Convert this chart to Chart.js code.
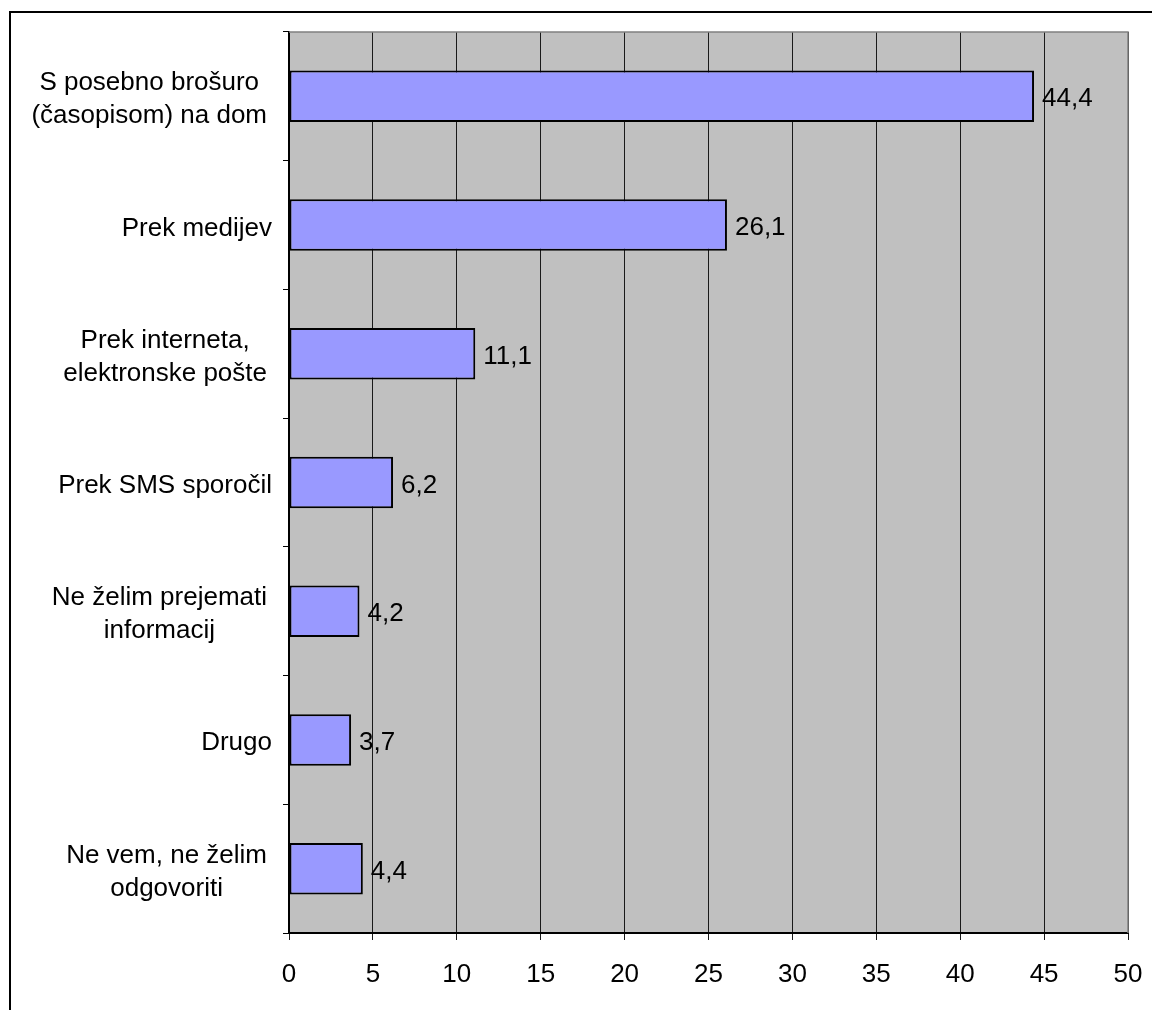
<!DOCTYPE html>
<html lang="sl">
  <head>
    <meta charset="UTF-8" />
    <title>Način prejemanja informacij</title>
    <script src="https://cdn.jsdelivr.net/npm/chart.js"></script>
    <style>
      html, body { margin: 0; padding: 0; background: #ffffff; }
      #wrap { width: 1152px; height: 1010px; }
    </style>
  </head>
  <body>
    <div id="wrap">
      <canvas id="myChart" width="1152" height="1010"></canvas>
    </div>

    <script>
      // data
      const categories = [
        ["S posebno brošuro", "(časopisom) na dom"],
        ["Prek medijev"],
        ["Prek interneta,", "elektronske pošte"],
        ["Prek SMS sporočil"],
        ["Ne želim prejemati", "informacij"],
        ["Drugo"],
        ["Ne vem, ne želim", "odgovoriti"]
      ];
      const values = [44.4, 26.1, 11.1, 6.2, 4.2, 3.7, 4.4];
      const xMin = 0;
      const xMax = 50;
      const xStep = 5;

      const fontFamily = '"Liberation Sans", Arial, sans-serif';
      const fontSize = 26;
      Chart.defaults.font.family = fontFamily;
      Chart.defaults.font.size = fontSize;
      Chart.defaults.color = "#000000";

      // white page, outer frame and grey plot area
      const backdrop = {
        id: "backdrop",
        beforeDraw(chart) {
          const { ctx, chartArea: a } = chart;
          ctx.save();
          ctx.fillStyle = "#ffffff";
          ctx.fillRect(0, 0, chart.width, chart.height);
          ctx.fillStyle = "#000000";
          ctx.fillRect(9, 11, chart.width, 2);
          ctx.fillRect(9, 11, 2, chart.height);
          ctx.fillStyle = "#c0c0c0";
          ctx.fillRect(a.left, a.top, a.right - a.left, a.bottom - a.top);
          ctx.restore();
        },
        afterDraw(chart) {
          const { ctx, chartArea: a } = chart;
          ctx.save();
          ctx.strokeStyle = "#808080";
          ctx.lineWidth = 1.5;
          ctx.beginPath();
          ctx.moveTo(a.left, a.top);
          ctx.lineTo(a.right, a.top);
          ctx.lineTo(a.right, a.bottom);
          ctx.stroke();
          ctx.restore();
        }
      };

      // category names: every line centred, block ends just left of the ticks
      const categoryLabels = {
        id: "categoryLabels",
        afterDraw(chart) {
          const { ctx } = chart;
          const yScale = chart.scales.y;
          const lineH = 33;
          ctx.save();
          ctx.font = fontSize + "px " + fontFamily;
          ctx.fillStyle = "#000000";
          ctx.textAlign = "center";
          ctx.textBaseline = "alphabetic";
          categories.forEach((lines, i) => {
            const cy = yScale.getPixelForValue(i);
            const rightEdge = yScale.right - (lines.length > 1 ? 22 : 17);
            const w = Math.max(...lines.map(l => ctx.measureText(l).width));
            const cx = rightEdge - w / 2;
            lines.forEach((l, k) => {
              ctx.fillText(l, cx, cy + 10.5 + (k - (lines.length - 1) / 2) * lineH);
            });
          });
          ctx.restore();
        }
      };

      // numbers at the end of the bars, with a decimal comma
      const valueLabels = {
        id: "valueLabels",
        afterDatasetsDraw(chart) {
          const { ctx } = chart;
          const meta = chart.getDatasetMeta(0);
          ctx.save();
          ctx.font = fontSize + "px " + fontFamily;
          ctx.fillStyle = "#000000";
          ctx.textAlign = "left";
          ctx.textBaseline = "alphabetic";
          meta.data.forEach((bar, i) => {
            const txt = values[i].toFixed(1).replace(".", ",");
            ctx.fillText(txt, bar.x + 8, bar.y + 10);
          });
          ctx.restore();
        }
      };

      new Chart(document.getElementById("myChart"), {
        type: "bar",
        data: {
          labels: categories.map(c => c.join(" ")),
          datasets: [
            {
              data: values,
              backgroundColor: "#9999ff",
              borderColor: "#000000",
              borderWidth: 2,
              borderSkipped: false,
              barPercentage: 0.4,
              categoryPercentage: 1
            }
          ]
        },
        options: {
          indexAxis: "y",
          responsive: false,
          animation: false,
          events: [],
          layout: {
            autoPadding: false,
            padding: { left: 0, top: 32, right: 24, bottom: 0 }
          },
          plugins: {
            legend: { display: false },
            tooltip: { enabled: false }
          },
          scales: {
            x: {
              min: xMin,
              max: xMax,
              ticks: { stepSize: xStep, padding: 19, color: "#000000" },
              grid: { color: "#1a1a1a", lineWidth: 1, tickLength: 7, drawTicks: true },
              border: { color: "#000000", width: 2 },
              afterFit(scale) {
                scale.height = 77;
                scale.paddingLeft = 0;
                scale.paddingRight = 0;
              }
            },
            y: {
              ticks: { display: false },
              grid: { offset: true, drawOnChartArea: false, color: "#000000", tickLength: 6 },
              border: { color: "#000000", width: 2 },
              afterFit(scale) { scale.width = 289; }
            }
          }
        },
        plugins: [backdrop, categoryLabels, valueLabels]
      });
    </script>
  </body>
</html>
